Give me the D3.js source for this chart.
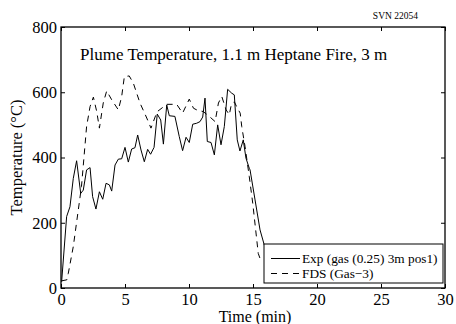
<!DOCTYPE html>
<html><head><meta charset="utf-8">
<script src="https://cdn.jsdelivr.net/npm/d3@7"></script>
<style>body{margin:0;background:#fff}svg{display:block}svg text{font-family:"Liberation Serif","Times New Roman",serif !important;fill:#000}</style>
</head><body><svg id="c" width="456" height="324"></svg>
<script>
const xTicks=[0,5,10,15,20,25,30];
const yTicks=[0,200,400,600,800];
const expTime=[0.05,0.44,0.7,0.96,1.22,1.54,1.74,2.0,2.27,2.47,2.73,3.0,3.26,3.52,3.78,3.96,4.22,4.48,4.74,5.0,5.26,5.52,5.78,5.99,6.25,6.51,6.77,7.0,7.27,7.52,7.79,8.0,8.26,8.46,8.9,9.24,9.5,9.77,10.02,10.29,10.6,10.86,11.07,11.25,11.43,11.72,11.98,12.24,12.5,12.76,13.02,13.34,13.54,13.77,13.98,14.24,14.45,14.71,14.77,15.16,15.55,15.88,16.3,16.8];
const expTemp=[19,219,249,336,390,290,300,362,369,280,242,295,272,321,316,297,377,395,396,431,386,426,430,469,423,387,425,410,431,533,515,441,561,528,526,464,421,462,446,502,505,510,524,582,449,446,408,500,439,495,609,597,592,454,420,454,398,367,362,270,178,132,80,40];
const fdsTime=[0.05,0.45,0.57,0.96,1.35,1.6,2.0,2.27,2.53,2.79,3.0,3.3,3.57,3.96,4.48,4.74,4.95,5.33,5.65,6.17,6.7,7.03,7.5,8.26,9.04,9.5,10.02,10.35,10.7,11.1,11.5,12.04,12.3,12.56,12.9,13.15,13.3,13.54,13.72,14.0,14.12,14.38,14.71,14.98,15.41,15.6];
const fdsTemp=[22,25,45,127,239,311,495,556,585,541,490,567,604,577,546,587,648,650,628,567,521,490,540,563,563,536,579,551,544,541,529,510,567,587,546,531,561,571,556,536,495,433,341,260,106,85];
const series=[{name:"Exp (gas (0.25) 3m pos1)",t:expTime,v:expTemp,dash:null},{name:"FDS (Gas\u22123)",t:fdsTime,v:fdsTemp,dash:"6,5"}];

const svg=d3.select("#c");
const L=61,R=445,T=27,B=288;
const x=d3.scaleLinear().domain([0,30]).range([L,R]);
const y=d3.scaleLinear().domain([0,800]).range([B,T]);
const g=svg.append("g");
const line=d3.line();
series.forEach(s=>{
  g.append("path").attr("d",line(s.t.map((t,i)=>[x(t),y(s.v[i])])))
   .attr("fill","none").attr("stroke","#000").attr("stroke-width",1)
   .attr("stroke-dasharray",s.dash);
});
const ax=(a,p)=>a.tickSizeInner(-4).tickSizeOuter(0).tickPadding(p);
const xa=svg.append("g").attr("transform",`translate(0,${B})`).call(ax(d3.axisBottom(x).tickValues(xTicks).tickFormat(d3.format("d")),5));
const xt=svg.append("g").attr("transform",`translate(0,${T})`).call(ax(d3.axisTop(x).tickValues(xTicks),5).tickFormat(""));
const ya=svg.append("g").attr("transform",`translate(${L},0)`).call(ax(d3.axisLeft(y).tickValues(yTicks).tickFormat(d3.format("d")),6));
const yr=svg.append("g").attr("transform",`translate(${R},0)`).call(ax(d3.axisRight(y).tickValues(yTicks),6).tickFormat(""));
[xa,xt,ya,yr].forEach(a=>{a.attr("font-family",null).attr("font-size",null);a.select(".domain").remove();a.selectAll("line").attr("stroke","#000");a.selectAll("text").attr("font-size",16.5).style("font-family","'Liberation Serif',serif");});
ya.selectAll("text").attr("dx",2);
xa.selectAll("text").attr("dy","0.7em");
svg.append("rect").attr("x",L).attr("y",T).attr("width",R-L).attr("height",B-T).attr("fill","none").attr("stroke","#000").attr("stroke-width",1.3);
svg.append("text").attr("x",(L+R)/2+2).attr("y",322).attr("text-anchor","middle").attr("font-size",16).text("Time (min)");
svg.append("text").attr("transform",`translate(22,${(T+B)/2}) rotate(-90)`).attr("text-anchor","middle").attr("font-size",16.5).text("Temperature (\u00B0C)");
svg.append("text").attr("x",80).attr("y",60).attr("font-size",17).text("Plume Temperature, 1.1 m Heptane Fire, 3 m");
svg.append("text").attr("x",418).attr("y",19).attr("text-anchor","end").attr("font-size",9.5).text("SVN 22054");
const lg=svg.append("g");
lg.append("rect").attr("x",264).attr("y",244).attr("width",179).attr("height",39).attr("fill","#fff").attr("stroke","#000").attr("stroke-width",1);
series.forEach((s,i)=>{
  const yy=258.5+i*15;
  lg.append("line").attr("x1",271).attr("x2",300).attr("y1",yy).attr("y2",yy).attr("stroke","#000").attr("stroke-dasharray",s.dash);
  lg.append("text").attr("x",302).attr("y",yy+4.5).attr("font-size",13.3).text(s.name);
});
</script></body></html>
